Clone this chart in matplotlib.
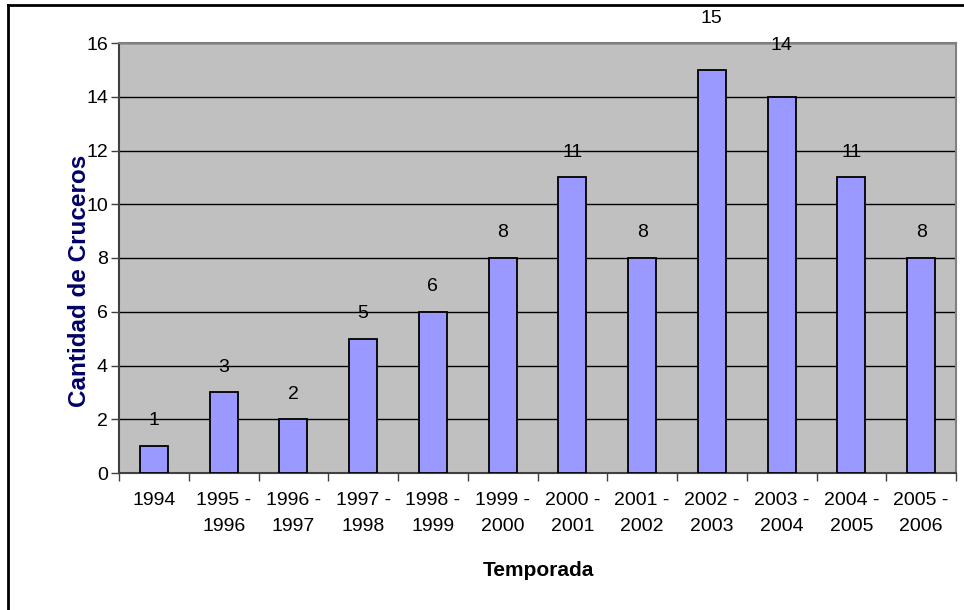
import matplotlib.pyplot as plt
import numpy as np
from matplotlib.lines import Line2D

plt.rcParams['font.family'] = ['Liberation Sans', 'DejaVu Sans']

# data
temporadas = ['1994', '1995 -\n1996', '1996 -\n1997', '1997 -\n1998', '1998 -\n1999',
              '1999 -\n2000', '2000 -\n2001', '2001 -\n2002', '2002 -\n2003',
              '2003 -\n2004', '2004 -\n2005', '2005 -\n2006']
cruceros = [1, 3, 2, 5, 6, 8, 11, 8, 15, 14, 11, 8]

fig = plt.figure(figsize=(9.64, 6.10), dpi=100)
ax = fig.add_axes([119/964, 137/610, (956-119)/964, (473-43)/610])
ax.set_facecolor('#C0C0C0')

x = np.arange(len(cruceros))
ax.bar(x, cruceros, width=0.4, color='#9999FF', edgecolor='black', linewidth=1.3, zorder=3)

# the two tallest labels sit higher in the original
for xi, v in zip(x, cruceros):
    off = 31 if v >= 14 else 12
    ax.annotate(str(v), (xi, v), xytext=(0, off), textcoords='offset points',
                ha='center', va='bottom', fontsize=14, annotation_clip=False)

ax.set_xlim(-0.5, len(cruceros) - 0.5)
ax.set_ylim(0, 16)
ax.set_yticks(np.arange(0, 17, 2))
ax.yaxis.grid(True, color='black', linewidth=1.0, zorder=1)
ax.set_axisbelow(True)

# ticks between categories, labels at centres
ax.set_xticks(np.arange(-0.5, len(cruceros), 1))
ax.set_xticklabels([])
ax.set_xticks(x, minor=True)
ax.set_xticklabels(temporadas, minor=True, fontsize=14, linespacing=1.65)
ax.tick_params(axis='x', which='minor', length=0, pad=14)
ax.tick_params(axis='x', which='major', length=6, width=1, color='#404040')
ax.tick_params(axis='y', labelsize=14, length=6, width=1, color='#404040', pad=2)

for s in ['top', 'right']:
    ax.spines[s].set_color('#808080')
    ax.spines[s].set_linewidth(1.5)
for s in ['left', 'bottom']:
    ax.spines[s].set_color('#404040')
    ax.spines[s].set_linewidth(1.5)

fig.text(538/964, 1 - 571/610, 'Temporada', ha='center', va='center',
         fontsize=15, fontweight='bold')
fig.text(80/964, 1 - 281/610, 'Cantidad de Cruceros', ha='center', va='center',
         rotation=90, fontsize=17.5, fontweight='bold', color='#000066')

# outer chart border (top and left visible)
fig.add_artist(Line2D([8/964, 1], [1 - 5/610, 1 - 5/610], color='black', linewidth=2))
fig.add_artist(Line2D([8/964, 8/964], [0, 1 - 5/610], color='black', linewidth=2))

fig.savefig('out.png', dpi=100)
